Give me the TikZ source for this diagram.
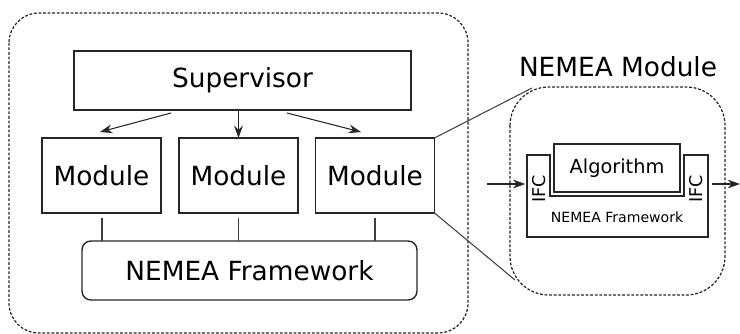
\documentclass[tikz,border=0pt]{standalone}
\usepackage{fontspec}
\setmainfont{DejaVu Sans}
\usetikzlibrary{positioning,calc,arrows.meta}
\tikzset{
  nm box/.style={rectangle, draw=black!85, line width=0.8pt, align=center, inner sep=0pt, outer sep=0pt, font=\fontsize{15}{17}\selectfont},
  nm frame/.style={draw=black!85, line width=0.7pt, dash pattern=on 1.6pt off 1pt, rounded corners=17pt},
  nm arrow/.style={-{Stealth[length=7pt,width=5pt]}, draw=black!85, line width=0.6pt},
  nm link/.style={draw=black!75, line width=0.6pt}
}

\begin{document}
\begin{tikzpicture}[x=0.02cm, y=-0.02cm]
    \useasboundingbox (0,0) rectangle (740,334);

    % Outer system
    \draw [nm frame] (9,13) rectangle (468,333);
    \node [nm box, minimum width=6.74cm, minimum height=1.18cm] (Sup) at (242.5,80.5) {Supervisor};
    \node [nm box, minimum width=2.38cm, minimum height=1.5cm] (ModA) at (101.5,175.5) {Module};
    \node [nm box, minimum width=2.38cm, minimum height=1.5cm] (ModB) at (238.5,175.5) {Module};
    \node [nm box, minimum width=2.38cm, minimum height=1.5cm] (ModC) at (375,175.5) {Module};
    \node [nm box, rounded corners=5pt, minimum width=6.7cm, minimum height=1.18cm] (Frame) at (249.5,270.5) {NEMEA Framework};

    % Supervisor controls modules
    \draw [nm arrow] (171,113) -- (100,132);
    \draw [nm arrow] (Sup.south -| ModB) -- (ModB);
    \draw [nm arrow] (287,113) -- (361,132);

    % Modules sit on the framework
    \draw [nm link] ([yshift=-3pt]ModA.south -| 102,0) -- (Frame.north -| 102,0);
    \draw [nm link] ([yshift=-3pt]ModB.south) -- (Frame.north -| ModB);
    \draw [nm link] ([yshift=-3pt]ModC.south) -- (Frame.north -| ModC);

    % Zoomed module
    \node [font=\fontsize{15}{17}\selectfont] (Title) at (618,67) {NEMEA Module};
    \draw [nm frame, rounded corners=22pt] (510,87) rectangle (725,295);
    \coordinate (ZoomTop) at (532,88);
    \coordinate (ZoomBot) at (515,280);
    \draw [nm link] (ModC.north east) -- (ZoomTop);
    \draw [nm link] (ModC.south east) -- (ZoomBot);

    % framework with the two interfaces
    \draw [draw=black!85, line width=0.8pt] (527,155) -- (550,155) -- (550,196) -- (684,196)
        -- (684,155) -- (708,155) -- (708,237) -- (527,237) -- cycle;
    \coordinate (IfcL) at (527,184);
    \coordinate (IfcR) at (708,184);
    \node [nm box, line width=1.1pt, minimum width=2.52cm, minimum height=0.96cm, font=\fontsize{11}{13}\selectfont] (Algo) at (617,168) {Algorithm};
    \node [rotate=90, font=\fontsize{10}{12}\selectfont] (IfcLT) at (539,189) {IFC};
    \node [rotate=90, font=\fontsize{10}{12}\selectfont] (IfcRT) at (696,189) {IFC};
    \node [font=\fontsize{8}{10}\selectfont] (NFw) at (617,217) {NEMEA Framework};

    % Data flow
    \coordinate (In) at (487,184);
    \coordinate (Out) at (740,184);
    \draw [nm arrow] (In) -- ([xshift=-1pt]IfcL);
    \draw [nm arrow] ([xshift=2pt]IfcR) -- (Out);
\end{tikzpicture}
\end{document}
